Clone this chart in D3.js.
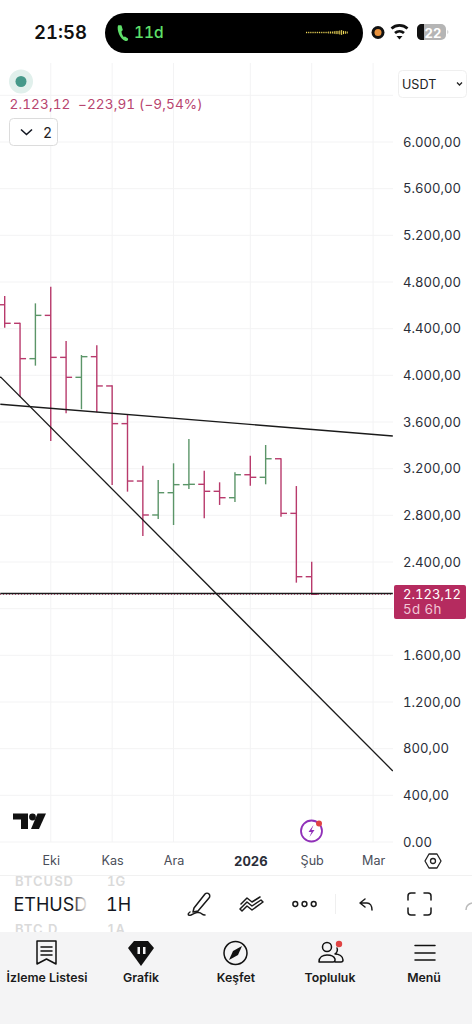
<!DOCTYPE html>
<html lang="tr">
<head>
<meta charset="utf-8">
<title>ETHUSD</title>
<script src="https://cdn.jsdelivr.net/npm/d3@7/dist/d3.min.js"></script>
<style>
  html, body { margin: 0; padding: 0; background: #fff; }
  svg { display: block; font-family: Inter, "Noto Sans", sans-serif; font-variant-numeric: tabular-nums; }
</style>
</head>
<body>
<svg id="chart" width="472" height="1024" viewBox="0 0 472 1024"></svg>
<script>
// Weekly ETHUSD bars
const barDates = ["2025-09-15","2025-09-22","2025-09-29","2025-10-06","2025-10-13","2025-10-20","2025-10-27",
  "2025-11-03","2025-11-10","2025-11-17","2025-11-24","2025-12-01","2025-12-08","2025-12-15","2025-12-22",
  "2025-12-29","2026-01-05","2026-01-12","2026-01-19","2026-01-26","2026-02-02"];
const opens  = [4605,4446,4143,4514,4154,3983,4160,3909,3586,3094,2803,2994,3063,3066,3006,2951,3148,3126,3285,2817,2274];
const highs  = [4680,4451,4617,4760,4294,4174,4257,3915,3660,3225,3103,3246,3454,3183,3083,3169,3311,3403,3289,3051,2403];
const lows   = [4408,3817,4083,3437,3674,3709,3683,3060,3003,2623,2769,2717,3026,2775,2889,2914,3054,3066,2788,2223,2117];
const closes = [4446,4143,4514,4154,3983,4160,3909,3586,3094,2803,2994,3063,3066,3006,2951,3148,3126,3285,2817,2274,2123.12];

// Hand-drawn trend lines: price at each end date
const trendDates = ["2025-09-13","2026-03-11"];
const steepTrend = [3988, 609];
const flatTrend = [3752, 3480];
const supportLine = [2130, 2130];
const lastPrice = 2123.12;

const priceTicks = [0,400,800,1200,1600,2000,2400,2800,3200,3600,4000,4400,4800,5200,5600,6000];
const hiddenLabelTicks = [2000];
const gridOnlyTicks = [6400];
const monthDates = ["2025-10-06","2025-11-03","2025-12-01","2026-01-05","2026-02-02","2026-03-02"];
const monthLabels = ["Eki","Kas","Ara","2026","Şub","Mar"];

const headerText = "2.123,12  −223,91 (−9,54%)";
const countdown = "5d 6h";
const symbolsAbove = ["BTCUSD","1G"];
const symbolsActive = ["ETHUSD","1H"];
const symbolsBelow = ["BTC.D","1A"];
const tabLabels = ["İzleme Listesi","Grafik","Keşfet","Topluluk","Menü"];
const tabCenters = [47,141,236,330,424];

const RED = "#b83a6c", GREEN = "#5b9568", GRID = "#f3f3f4", INK = "#131722";
const paneRight = 393, paneTop = 63, paneBottom = 842;

const parse = d3.utcParse("%Y-%m-%d");
const x = d3.scaleUtc().domain([parse(barDates[0]), parse(barDates[20])]).range([4.7, 311.7]);
const y = d3.scaleLinear().domain([0, 6000]).range([paneBottom, 142]);
const trLocale = d3.formatLocale({decimal: ",", thousands: ".", grouping: [3], currency: ["", ""]});
const priceFmt = trLocale.format(",.2f");

const svg = d3.select("#chart");
const defs = svg.append("defs");
defs.append("clipPath").attr("id", "pane").append("rect")
  .attr("x", 0).attr("y", paneTop).attr("width", paneRight).attr("height", paneBottom - paneTop);
defs.append("clipPath").attr("id", "symbols").append("rect")
  .attr("x", 0).attr("y", 876).attr("width", 140).attr("height", 56);
const fade = defs.append("linearGradient").attr("id", "symFade");
fade.append("stop").attr("offset", "0").attr("stop-color", "#fff").attr("stop-opacity", 0);
fade.append("stop").attr("offset", "1").attr("stop-color", "#fff").attr("stop-opacity", 1);

// Grid
const grid = svg.append("g").attr("stroke", GRID).attr("stroke-width", 1);
grid.selectAll("line.h").data(priceTicks.concat(gridOnlyTicks)).join("line").attr("class", "h")
  .attr("x1", 0).attr("x2", paneRight).attr("y1", d => y(d)).attr("y2", d => y(d));
grid.selectAll("line.v").data(monthDates).join("line").attr("class", "v")
  .attr("x1", d => x(parse(d))).attr("x2", d => x(parse(d))).attr("y1", paneTop).attr("y2", paneBottom);

// OHLC bars
const bars = barDates.map((d, i) => ({date: parse(d), o: opens[i], h: highs[i], l: lows[i], c: closes[i]}));
const pane = svg.append("g").attr("clip-path", "url(#pane)");
const bar = pane.selectAll("g.bar").data(bars).join("g").attr("class", "bar")
  .attr("stroke", d => d.c >= d.o ? GREEN : RED).attr("stroke-width", 1.4).attr("fill", "none");
bar.append("line").attr("x1", d => x(d.date)).attr("x2", d => x(d.date)).attr("y1", d => y(d.h)).attr("y2", d => y(d.l));
bar.append("line").attr("x1", d => x(d.date) - 6).attr("x2", d => x(d.date)).attr("y1", d => y(d.o)).attr("y2", d => y(d.o));
bar.append("line").attr("x1", d => x(d.date)).attr("x2", d => x(d.date) + 6).attr("y1", d => y(d.c)).attr("y2", d => y(d.c));

// Last price marker and trend lines
pane.append("line").attr("x1", 0).attr("x2", paneRight).attr("y1", y(lastPrice)).attr("y2", y(lastPrice))
  .attr("stroke", RED).attr("stroke-width", 1).attr("stroke-dasharray", "1 2");
const trendLine = d3.line().x((d, i) => x(parse(trendDates[i]))).y(d => y(d));
pane.selectAll("path.trend").data([steepTrend, flatTrend, supportLine]).join("path").attr("class", "trend")
  .attr("d", trendLine).attr("fill", "none").attr("stroke", "#1a1a1a").attr("stroke-width", 1.3);

// Price axis
const yAxis = d3.axisRight(y).tickValues(priceTicks.filter(t => !hiddenLabelTicks.includes(t)))
  .tickSize(0).tickPadding(0).tickFormat(d => d === 0 ? "0.00" : priceFmt(d));
const yG = svg.append("g").attr("transform", "translate(403,0)").call(yAxis);
yG.select(".domain").remove();
yG.selectAll("text").attr("font-family", "Inter, sans-serif").attr("font-size", 13.1).attr("fill", "#2a2e39");

// Time axis
const xAxis = d3.axisBottom(x).tickValues(monthDates.map(parse)).tickSize(0).tickPadding(0)
  .tickFormat((d, i) => monthLabels[i]);
const xG = svg.append("g").attr("transform", "translate(0,856.5)").call(xAxis);
xG.select(".domain").remove();
xG.selectAll("text").attr("font-family", "Inter, sans-serif").attr("font-size", 12.6).attr("fill", "#4a4e59");
xG.selectAll("text").filter((d, i) => monthLabels[i] === "2026")
  .attr("fill", "#2a2e39").attr("font-size", 13).attr("font-weight", 700);
svg.append("line").attr("x1", 0).attr("x2", 472).attr("y1", 875.5).attr("y2", 875.5).attr("stroke", "#f1f1f1");

// Price tag
svg.append("rect").attr("x", 394).attr("y", 585).attr("width", 72).attr("height", 34).attr("rx", 2).attr("fill", "#b52b5f");
svg.append("text").attr("x", 403).attr("y", 598.5).attr("font-size", 13.1).attr("fill", "#fff").text(priceFmt(lastPrice));
svg.append("text").attr("x", 403).attr("y", 614).attr("font-size", 13.3).attr("letter-spacing", 0.4).attr("fill", "#f1c6d6").text(countdown);

// Legend strip above the pane
svg.append("circle").attr("cx", 21).attr("cy", 81.5).attr("r", 12).attr("fill", "#e1f0ec");
svg.append("circle").attr("cx", 21).attr("cy", 81.5).attr("r", 5.5).attr("fill", "#46998a");
svg.append("text").attr("x", 9.5).attr("y", 109).attr("font-size", 13.6).attr("letter-spacing", 0.1).attr("fill", "#b8456f")
  .style("white-space", "pre").text(headerText);
svg.append("rect").attr("x", 9.5).attr("y", 118.5).attr("width", 48).attr("height", 27).attr("rx", 4)
  .attr("fill", "#fff").attr("stroke", "#dcdcdc");
svg.append("path").attr("d", "M21 129.5l5.5 5 5.5-5").attr("fill", "none").attr("stroke", INK).attr("stroke-width", 1.6);
svg.append("text").attr("x", 43).attr("y", 138).attr("font-size", 14).attr("fill", "#222").text("2");
svg.append("rect").attr("x", 398.5).attr("y", 70.5).attr("width", 68).attr("height", 27).attr("rx", 4)
  .attr("fill", "#fff").attr("stroke", "#efefef");
svg.append("text").attr("x", 402).attr("y", 88.5).attr("font-size", 12.6).attr("fill", "#222").text("USDT");
svg.append("path").attr("d", "M457 82.5l2.5 2.5 2.5-2.5").attr("fill", "none").attr("stroke", "#222").attr("stroke-width", 1.3);

// Phone status bar
svg.append("text").attr("x", 34).attr("y", 39).attr("font-size", 18.5).attr("font-weight", 600).attr("fill", "#111").text("21:58");
svg.append("rect").attr("x", 105).attr("y", 13).attr("width", 258).attr("height", 40).attr("rx", 20).attr("fill", "#000");
svg.append("path").attr("d", "M118 25.5c-1.5 4 2 14 7.5 15.5 2 .5 3-1 2.5-2.5l-3-2c-1 .5-1.5.5-2-.5-1-1.5-1.5-3-1.5-4.5 0-.5 1-1 1.3-1.5l-1.3-4.5c-1.3-.5-3-.5-3.5 0z")
  .attr("fill", "#5fe06a");
svg.append("text").attr("x", 134).attr("y", 38).attr("font-size", 15.5).attr("font-weight", 500).attr("fill", "#5fe06a").text("11d");
const waveHeights = [.7,.7,.7,.7,.7,.7,.7,.7,.7,.7,.7,.7,1,1,1,1.3,1.6,1.6,2,2.4,1.6,1.3,1];
svg.append("g").attr("fill", "#f4dc5a").selectAll("rect").data(waveHeights).join("rect")
  .attr("x", (d, i) => 306 + i * 1.85).attr("y", d => 32.5 - d).attr("width", 1).attr("height", d => d * 2);
svg.append("circle").attr("cx", 378).attr("cy", 32.5).attr("r", 6.5).attr("fill", "#111");
svg.append("circle").attr("cx", 378).attr("cy", 32.5).attr("r", 3.5).attr("fill", "#e8913c");
// Wifi arcs
const wifi = svg.append("g").attr("fill", "none").attr("stroke", "#111").attr("stroke-width", 2.8);
wifi.append("path").attr("d", "M391.5 28.5a12 12 0 0 1 16 0");
wifi.append("path").attr("d", "M395 33a7 7 0 0 1 9 0");
svg.append("path").attr("d", "M396.5 36h6l-3 3.5z").attr("fill", "#111");
// Battery
svg.append("rect").attr("x", 417).attr("y", 24).attr("width", 29).attr("height", 16).attr("rx", 5).attr("fill", "#b5b5b5");
svg.append("path").attr("d", "M424 24v16h-2c-3 0-5-2-5-5v-6c0-3 2-5 5-5z").attr("fill", "#111");
svg.append("path").attr("d", "M447.5 30c1 .5 1 3.5 0 4z").attr("fill", "#b5b5b5");
svg.append("text").attr("x", 433).attr("y", 37.5).attr("text-anchor", "middle").attr("font-size", 13).attr("font-weight", 700).attr("fill", "#fff").text("22");

// Watermark and promo badge over the pane
svg.append("path").attr("d", "M13 813.5h15v15.5h-7v-9.5h-8z").attr("fill", "#111");
svg.append("circle").attr("cx", 32.5).attr("cy", 817).attr("r", 3.4).attr("fill", "#111");
svg.append("path").attr("d", "M37.5 813.5h8.5l-7 15.5h-8z").attr("fill", "#111");
svg.append("circle").attr("cx", 311.5).attr("cy", 831).attr("r", 10.5).attr("fill", "#fff").attr("stroke", "#9030b8").attr("stroke-width", 1.8);
svg.append("path").attr("d", "M313.5 825l-5 7h3l-2 5 5-7h-3z").attr("fill", "#9030b8");
svg.append("circle").attr("cx", 319).attr("cy", 823.5).attr("r", 3).attr("fill", "#e04343");

// Settings hexagon in the axis corner
svg.append("path").attr("d", "M429 854h8l4 7-4 7h-8l-4-7z").attr("fill", "none").attr("stroke", "#222").attr("stroke-width", 1.3).attr("stroke-linejoin", "round");
svg.append("circle").attr("cx", 433).attr("cy", 861).attr("r", 2.5).attr("fill", "none").attr("stroke", "#222").attr("stroke-width", 1.3);

// Symbol and interval wheel
const wheel = svg.append("g").attr("clip-path", "url(#symbols)");
wheel.append("text").attr("x", 15).attr("y", 886).attr("font-size", 13).attr("letter-spacing", 1).attr("fill", "#dadada").attr("font-weight", 600).text(symbolsAbove[0]);
wheel.append("text").attr("x", 107).attr("y", 886).attr("font-size", 13).attr("fill", "#dadada").attr("font-weight", 600).text(symbolsAbove[1]);
wheel.append("text").attr("x", 15).attr("y", 933.5).attr("font-size", 13).attr("letter-spacing", 1).attr("fill", "#dadada").attr("font-weight", 600).text(symbolsBelow[0]);
wheel.append("text").attr("x", 107).attr("y", 933.5).attr("font-size", 13).attr("fill", "#dadada").attr("font-weight", 600).text(symbolsBelow[1]);
wheel.append("text").attr("x", 13.5).attr("y", 911).attr("font-size", 18).attr("fill", INK).text(symbolsActive[0]);
wheel.append("text").attr("x", 106).attr("y", 911).attr("font-size", 18).attr("fill", INK).text(symbolsActive[1]);
svg.append("rect").attr("x", 72).attr("y", 876).attr("width", 16).attr("height", 56).attr("fill", "url(#symFade)");

// Drawing toolbar
const tools = svg.append("g").attr("fill", "none").attr("stroke", "#1a1a1a").attr("stroke-width", 1.5).attr("stroke-linecap", "round").attr("stroke-linejoin", "round");
tools.append("path").attr("d", "M194 908l11-14c1-1 3-1 4 0s1 3 0 4l-11 13-5 1zM190 912c-3 2-2 4 1 3 4-2 8-4 11-1 1 1 2 1 3 1");
tools.append("path").attr("d", "M240 909l7-7 5 4 9-6 2 2-11 8-5-4-5 5zM241 904l6-6 5 4 8-5");
[295.3, 304.5, 313.7].forEach(cx => tools.append("circle").attr("cx", cx).attr("cy", 904).attr("r", 2.4));
svg.append("line").attr("x1", 335.5).attr("x2", 335.5).attr("y1", 894).attr("y2", 914).attr("stroke", "#efefef");
tools.append("path").attr("d", "M365 899l-5 4 5 4M360 903h7c3 0 5 3 5 7");
tools.append("path").attr("d", "M408 900v-4c0-2 1-3 3-3h4M424 893h4c2 0 3 1 3 3v4M431 908v4c0 2-1 3-3 3h-4M415 915h-4c-2 0-3-1-3-3v-4");
svg.append("path").attr("d", "M466 910c0-4 2-6 6-7").attr("fill", "none").attr("stroke", "#bbb").attr("stroke-width", 1.5);

// Bottom tab bar
svg.append("rect").attr("x", 0).attr("y", 932).attr("width", 472).attr("height", 92).attr("fill", "#f4f4f5");
svg.append("g").selectAll("text").data(tabLabels).join("text")
  .attr("x", (d, i) => tabCenters[i]).attr("y", 982).attr("text-anchor", "middle")
  .attr("font-size", 12.3).attr("font-weight", 600).attr("fill", "#1a1a1a").text(d => d);
const icons = svg.append("g").attr("fill", "none").attr("stroke", "#111").attr("stroke-width", 1.5).attr("stroke-linejoin", "round").attr("stroke-linecap", "round");
icons.append("path").attr("d", "M37 941h19v23l-9.5-5-9.5 5zM41 947h11M41 951h11M41 955h11");
svg.append("path").attr("d", "M134 941h14l6 7-13 18-13-18z").attr("fill", "#111");
svg.append("g").attr("fill", "#f4f4f5").selectAll("rect").data([137.5, 143]).join("rect")
  .attr("x", d => d).attr("y", 947).attr("width", 2.5).attr("height", 7);
icons.append("circle").attr("cx", 235.5).attr("cy", 953).attr("r", 11.5);
svg.append("path").attr("d", "M242 946l-4 9-9 5 4-9z").attr("fill", "#111");
icons.append("circle").attr("cx", 327).attr("cy", 947).attr("r", 4.5);
icons.append("path").attr("d", "M319 962c0-5 4-7 8-7s7 1 8 4v1c0 2-1 2-2 2h-12c-1 0-2 0-2 0zM337 948c1 2 0 5-2 6 4 0 8 2 8 6 0 2-1 2-2 2h-6");
svg.append("circle").attr("cx", 339).attr("cy", 944).attr("r", 3.2).attr("fill", "#e04343");
icons.append("path").attr("d", "M415 945.5h20M415 953h20M415 960h20");
</script>
</body>
</html>
